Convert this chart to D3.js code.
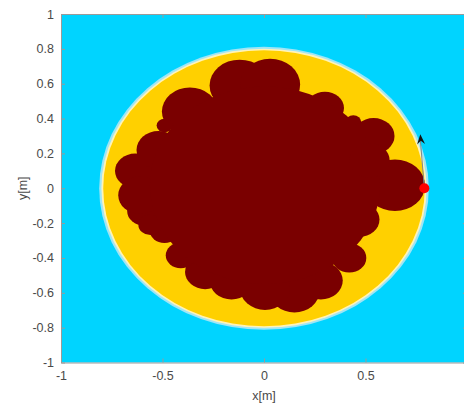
<!DOCTYPE html>
<html lang="en">
<head>
    <meta charset="UTF-8" />
    <title>blob in disk</title>
    <script src="https://d3js.org/d3.v7.min.js"></script>
    <style>
        body { margin: 0; background: #fff; }
        text { font-family: "Liberation Sans", Arial, sans-serif; }
        .tick text { font-size: 12.5px; fill: #4a4a4a; }
        .axis-label { font-size: 12.5px; fill: #4a4a4a; }
    </style>
</head>
<body>
    <script>
        // circles that make up the dark blob (data units)
        const blobX = [-0.12, 0.03, 0.30, 0.44, 0.54, 0.645, 0.47, 0.42, 0.28, 0.15, 0.005, -0.16,
                       -0.29, -0.41, -0.49, -0.59, -0.56, -0.635, -0.61, -0.52, -0.365, -0.49, 0.005, 0.52];
        const blobY = [0.59, 0.595, 0.46, 0.38, 0.30, 0.017, -0.18, -0.40, -0.53, -0.59, -0.575, -0.53,
                       -0.48, -0.385, -0.24, -0.13, -0.21, 0.10, -0.04, 0.22, 0.44, 0.36, 0.017, 0.16];
        const blobR = [0.148, 0.148, 0.094, 0.039, 0.103, 0.148, 0.099, 0.084, 0.108, 0.123, 0.123, 0.108,
                       0.099, 0.074, 0.074, 0.084, 0.059, 0.099, 0.108, 0.108, 0.138, 0.039, 0.567, 0.099];

        // disk + rim
        const ringR = [0.812, 0.801, 0.792];
        const ringColor = ["#9fe5f6", "#fff3b8", "#ffd000"];

        // start point and heading arrow
        const startPt = [0.79, 0.0];
        const arrowTip = [0.77, 0.31];

        const xTicks = [-1, -0.5, 0, 0.5, 1];
        const yTicks = [-1, -0.8, -0.6, -0.4, -0.2, 0, 0.2, 0.4, 0.6, 0.8, 1];

        const width = 464, height = 407;
        const margin = { top: 14, left: 61 };
        const plotW = 406, plotH = 348.5;

        const x = d3.scaleLinear().domain([-1, 1]).range([0, plotW]);
        const y = d3.scaleLinear().domain([-1, 1]).range([plotH, 0]);

        const svg = d3.select("body").append("svg")
            .attr("width", width)
            .attr("height", height);

        const g = svg.append("g")
            .attr("transform", `translate(${margin.left},${margin.top})`);

        // axes background
        g.append("rect")
            .attr("width", plotW)
            .attr("height", plotH)
            .attr("fill", "#00d4ff");

        // circles drawn in data units -> ellipses on screen
        const ellipse = (sel, cx, cy, r) => sel
            .attr("cx", x(cx))
            .attr("cy", y(cy))
            .attr("rx", x(r) - x(0))
            .attr("ry", y(0) - y(r));

        ringR.forEach((r, i) => {
            g.append("ellipse").call(ellipse, 0, 0, r).attr("fill", ringColor[i]);
        });

        const blob = blobX.map((d, i) => ({ x: d, y: blobY[i], r: blobR[i] }));
        g.selectAll(".blob")
            .data(blob)
            .enter()
            .append("ellipse")
            .attr("class", "blob")
            .each(function (d) { d3.select(this).call(ellipse, d.x, d.y, d.r); })
            .attr("fill", "#7a0000");

        // path line + arrow head
        g.append("line")
            .attr("x1", x(startPt[0])).attr("y1", y(startPt[1]))
            .attr("x2", x(arrowTip[0])).attr("y2", y(arrowTip[1]) + 5)
            .attr("stroke", "#7f8a8c")
            .attr("stroke-width", 1);

        const ang = Math.atan2(y(arrowTip[1]) - y(startPt[1]), x(arrowTip[0]) - x(startPt[0]));
        const tx = x(arrowTip[0]), ty = y(arrowTip[1]);
        const hl = 10, hw = 4;
        const bx = tx - hl * Math.cos(ang), by = ty - hl * Math.sin(ang);
        const nx = -Math.sin(ang), ny = Math.cos(ang);
        g.append("path")
            .attr("d", `M${tx},${ty} L${bx + hw * nx},${by + hw * ny} L${tx - 0.65 * hl * Math.cos(ang)},${ty - 0.65 * hl * Math.sin(ang)} L${bx - hw * nx},${by - hw * ny} Z`)
            .attr("fill", "#111");

        g.append("circle")
            .attr("cx", x(startPt[0]))
            .attr("cy", y(startPt[1]))
            .attr("r", 5)
            .attr("fill", "#ff0000");

        // axes (matlab-like box with inward ticks)
        const styleAxis = a => {
            a.select(".domain").attr("stroke", "#9a9a9a");
            a.selectAll(".tick line").attr("stroke", "#9a9a9a");
        };
        const fmt = d => String(d); // plain hyphen minus like matlab

        g.append("g")
            .attr("transform", `translate(0,${plotH})`)
            .call(d3.axisBottom(x).tickValues(xTicks).tickFormat(fmt).tickSizeInner(-4).tickSizeOuter(0).tickPadding(9))
            .call(styleAxis);
        g.append("g")
            .call(d3.axisTop(x).tickValues(xTicks).tickFormat("").tickSizeInner(-4).tickSizeOuter(0))
            .call(styleAxis);
        g.append("g")
            .call(d3.axisLeft(y).tickValues(yTicks).tickFormat(fmt).tickSizeInner(-4).tickSizeOuter(0).tickPadding(7))
            .call(styleAxis);
        g.append("g")
            .attr("transform", `translate(${plotW},0)`)
            .call(d3.axisRight(y).tickValues(yTicks).tickFormat("").tickSizeInner(-4).tickSizeOuter(0))
            .call(styleAxis);

        g.selectAll(".tick text").attr("font-family", null).attr("font-size", null);

        // axis titles
        svg.append("text")
            .attr("class", "axis-label")
            .attr("x", margin.left + x(0))
            .attr("y", 400)
            .attr("text-anchor", "middle")
            .text("x[m]");
        svg.append("text")
            .attr("class", "axis-label")
            .attr("transform", `translate(27,${margin.top + y(0)}) rotate(-90)`)
            .attr("text-anchor", "middle")
            .text("y[m]");
    </script>
</body>
</html>
